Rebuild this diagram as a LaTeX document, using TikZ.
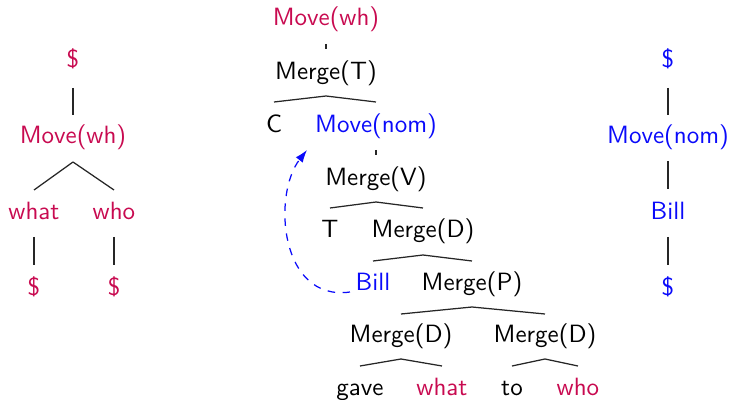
\documentclass[tikz,border=0pt]{standalone}
\usetikzlibrary{calc,arrows.meta}
\definecolor{whcol}{RGB}{200,10,80}
\definecolor{nomcol}{RGB}{10,10,250}
\begin{document}
\begin{tikzpicture}[x=0.4pt,y=-0.4pt,
  every node/.style={font=\sffamily\fontsize{10}{12}\selectfont,inner sep=0pt,outer sep=0pt,text height=8.4pt,text depth=2.2pt,anchor=center},
  wh/.style={text=whcol},
  nom/.style={text=nomcol},
  edge/.style={draw=black!85,line width=0.5pt},
  movearrow/.style={draw=nomcol,dashed,line width=0.5pt,-{Latex[length=5pt,width=3.5pt]}}]
\useasboundingbox (0,0) rectangle (729,400);
% left tree
\node[wh] (ld) at (73,60) {\$};
\node[wh] (lm) at (73,136) {Move(wh)};
\node[wh] (lwhat) at (34,212) {what};
\node[wh] (lwho) at (114,212) {who};
\node[wh] (ld1) at (34,288) {\$};
\node[wh] (ld2) at (114,288) {\$};
\draw[edge] ($(ld)+(0,28)$) -- ($(lm)+(0,-21)$);
\draw[edge] ($(lm)+(0,26)$) -- ($(lwhat)+(0,-22)$);
\draw[edge] ($(lm)+(0,26)$) -- ($(lwho)+(0,-22)$);
\draw[edge] ($(lwhat)+(0,25)$) -- ($(ld1)+(0,-23)$);
\draw[edge] ($(lwho)+(0,25)$) -- ($(ld2)+(0,-23)$);
% middle tree
\node[wh] (mw) at (326,18) {Move(wh)};
\node (mt) at (326,72) {Merge(T)};
\node (c) at (274,125) {C};
\node[nom] (mn) at (376,125) {Move(nom)};
\node (mv) at (376,178) {Merge(V)};
\node (t) at (330,230) {T};
\node (md) at (423,230) {Merge(D)};
\node[nom] (bill) at (373,283) {Bill};
\node (mp) at (472,283) {Merge(P)};
\node (md1) at (401,335) {Merge(D)};
\node (md2) at (545,335) {Merge(D)};
\node (gave) at (360,388) {gave};
\node[wh] (what) at (442,388) {what};
\node (to) at (512,388) {to};
\node[wh] (who) at (578,388) {who};
\draw[edge] ($(mw)+(0,26)$) -- ($(mt)+(0,-23)$);
\draw[edge] ($(mt)+(0,24)$) -- ($(c)+(0,-23)$);
\draw[edge] ($(mt)+(0,24)$) -- ($(mn)+(0,-23)$);
\draw[edge] ($(mn)+(0,25)$) -- ($(mv)+(0,-23)$);
\draw[edge] ($(mv)+(0,24)$) -- ($(t)+(0,-22)$);
\draw[edge] ($(mv)+(0,24)$) -- ($(md)+(0,-22)$);
\draw[edge] ($(md)+(0,25)$) -- ($(bill)+(0,-22)$);
\draw[edge] ($(md)+(0,25)$) -- ($(mp)+(0,-22)$);
\draw[edge] ($(mp)+(0,24)$) -- ($(md1)+(0,-21)$);
\draw[edge] ($(mp)+(0,24)$) -- ($(md2)+(0,-21)$);
\draw[edge] ($(md1)+(0,24)$) -- ($(gave)+(0,-22)$);
\draw[edge] ($(md1)+(0,24)$) -- ($(what)+(0,-22)$);
\draw[edge] ($(md2)+(0,24)$) -- ($(to)+(0,-22)$);
\draw[edge] ($(md2)+(0,24)$) -- ($(who)+(0,-22)$);
\coordinate (astart) at ($(bill)+(-23,9)$);
\coordinate (aend) at ($(mn)+(-69,25)$);
\draw[movearrow] (astart) .. controls ($(astart)+(-70,10)$) and ($(aend)+(-35,45)$) .. (aend);
% right tree
\node[nom] (rd) at (668,60) {\$};
\node[nom] (rm) at (668,136) {Move(nom)};
\node[nom] (rb) at (668,212) {Bill};
\node[nom] (rd2) at (668,288) {\$};
\draw[edge] ($(rd)+(0,28)$) -- ($(rm)+(0,-21)$);
\draw[edge] ($(rm)+(0,25)$) -- ($(rb)+(0,-23)$);
\draw[edge] ($(rb)+(0,25)$) -- ($(rd2)+(0,-23)$);
\end{tikzpicture}
\end{document}
